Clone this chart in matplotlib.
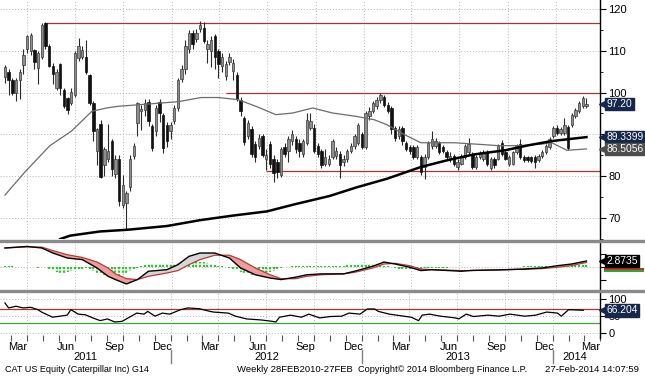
import numpy as np
import pandas as pd
import matplotlib
from matplotlib import pyplot as plt
from matplotlib import transforms
from matplotlib.lines import Line2D
from matplotlib.patches import Rectangle

matplotlib.use("Agg")
plt.rcParams['font.family'] = ['Liberation Sans', 'DejaVu Sans']

# weekly bars, first one dated Friday 18-Feb-2011, last one 28-Feb-2014
first_week = pd.Timestamp("2011-02-18")

opens = [
    103.7, 104.9, 102.9, 100.0, 103.0, 106.5, 110.3, 109.8, 110.2, 105.9,
    108.4, 116.6, 111.1, 106.4, 101.0, 106.8, 100.6, 98.6, 97.5, 99.4,
    108.2, 108.6, 108.6, 104.1, 97.5, 86.1, 92.4, 82.6, 84.0, 88.5,
    80.5, 84.0, 73.2, 73.6, 77.4, 84.9, 92.7, 95.5, 95.8, 97.8,
    91.9, 90.7, 97.8, 94.7, 92.3, 90.7, 93.1, 96.2, 103.3, 105.6,
    110.3, 114.3, 112.7, 115.1, 115.4, 110.3, 110.0, 113.6, 109.8, 106.3,
    103.9, 107.4, 105.1, 104.3, 98.3, 93.9, 89.6, 91.2, 87.7, 87.3,
    89.6, 84.2, 87.7, 84.2, 83.4, 80.2, 86.9, 86.1, 88.4, 88.8,
    88.0, 85.3, 88.0, 91.6, 91.6, 87.3, 86.1, 83.0, 83.0, 84.6,
    84.9, 85.3, 83.4, 84.2, 86.1, 87.3, 88.0, 90.0, 86.9, 94.3,
    95.5, 96.7, 98.3, 99.0, 97.1, 96.3, 91.6, 89.6, 91.6, 88.0,
    86.9, 86.9, 84.6, 84.6, 82.2, 84.6, 87.3, 87.3, 88.0, 86.9,
    85.7, 84.2, 84.9, 82.2, 83.0, 84.6, 85.7, 85.3, 82.2, 84.6,
    84.2, 85.7, 81.9, 84.2, 84.2, 88.0, 85.7, 83.0, 83.0, 85.7,
    87.7, 84.6, 84.5, 84.5, 84.6, 83.8, 84.9, 85.7, 86.9, 89.6,
    91.6, 90.4, 90.4, 91.8, 92.3, 94.3, 95.5, 96.7, 96.8]
closes = [
    106.1, 102.9, 100.0, 103.0, 105.0, 109.0, 113.4, 113.8, 107.4, 109.4,
    116.2, 111.1, 106.4, 104.5, 104.9, 101.0, 96.7, 95.9, 100.2, 109.4,
    111.0, 110.2, 105.0, 97.5, 90.8, 91.2, 79.9, 86.5, 86.0, 81.8,
    84.0, 74.0, 78.0, 75.9, 84.1, 87.2, 97.4, 96.0, 97.4, 93.1,
    86.8, 96.2, 95.0, 86.8, 88.4, 92.3, 96.2, 102.9, 105.6, 111.1,
    114.3, 111.5, 114.3, 116.2, 112.3, 111.5, 112.5, 108.6, 106.7, 108.6,
    106.7, 108.6, 107.0, 98.5, 95.5, 88.1, 92.8, 85.4, 84.6, 89.2,
    85.0, 85.0, 83.0, 80.7, 81.1, 86.5, 85.4, 88.8, 90.0, 86.5,
    86.1, 88.4, 93.5, 93.1, 86.1, 85.4, 82.6, 84.6, 84.2, 88.4,
    86.1, 82.6, 84.2, 86.1, 87.3, 89.6, 92.3, 86.9, 95.1, 95.5,
    97.5, 98.3, 99.4, 97.1, 95.5, 91.2, 89.2, 91.2, 88.4, 86.5,
    86.1, 84.6, 86.9, 81.1, 84.6, 88.0, 88.8, 88.4, 85.7, 86.1,
    84.6, 84.9, 83.0, 83.4, 84.6, 87.3, 87.7, 82.2, 84.6, 85.4,
    85.7, 83.0, 84.2, 82.6, 87.3, 85.3, 84.2, 84.6, 85.7, 87.3,
    84.6, 83.8, 83.8, 83.6, 83.4, 84.9, 85.7, 87.3, 88.8, 91.6,
    90.4, 91.2, 92.3, 86.7, 94.7, 95.9, 97.5, 98.6, 97.2]
highs = [
    106.6, 105.5, 103.5, 103.5, 105.5, 110.5, 113.8, 114.2, 110.5, 110.0,
    116.5, 116.8, 111.5, 107.0, 105.5, 107.0, 101.0, 99.0, 101.0, 110.0,
    113.0, 111.0, 112.5, 104.5, 98.0, 91.5, 93.5, 87.0, 92.4, 89.0,
    85.0, 85.0, 80.2, 76.5, 85.0, 88.0, 97.8, 97.0, 98.5, 98.5,
    92.5, 97.0, 98.5, 95.0, 93.0, 93.0, 97.0, 103.5, 106.5, 112.5,
    115.0, 115.0, 115.2, 117.2, 116.8, 112.5, 113.5, 114.0, 110.5, 109.5,
    107.5, 109.5, 108.0, 105.0, 99.0, 94.5, 93.5, 92.0, 88.5, 90.0,
    90.0, 86.5, 88.5, 85.0, 84.0, 87.0, 88.0, 89.5, 91.0, 89.5,
    89.0, 89.0, 95.0, 95.0, 92.5, 88.0, 86.5, 86.5, 85.0, 89.0,
    87.0, 86.0, 85.0, 86.5, 88.0, 90.0, 92.8, 90.5, 95.5, 96.5,
    98.0, 99.0, 99.8, 99.5, 97.8, 96.8, 92.0, 92.0, 92.0, 88.5,
    87.5, 87.5, 87.5, 85.0, 85.2, 88.5, 90.8, 89.2, 88.5, 87.5,
    86.2, 85.8, 85.3, 84.0, 85.2, 87.8, 89.2, 85.8, 85.0, 86.0,
    86.3, 86.2, 84.6, 84.6, 87.8, 88.6, 86.2, 85.1, 86.1, 87.8,
    88.8, 85.0, 84.9, 84.9, 85.0, 85.4, 86.2, 87.8, 89.3, 92.1,
    92.2, 91.7, 94.0, 92.3, 95.2, 96.4, 98.0, 99.1, 98.8]
lows = [
    102.2, 99.3, 99.3, 98.0, 98.5, 104.5, 109.5, 109.0, 105.5, 102.0,
    108.0, 110.5, 106.0, 102.0, 100.5, 99.5, 96.2, 94.8, 97.0, 99.0,
    107.5, 108.0, 104.5, 97.0, 88.5, 82.7, 79.5, 80.0, 83.5, 80.0,
    79.5, 73.0, 72.5, 67.3, 76.5, 84.0, 89.5, 91.0, 94.5, 92.0,
    86.0, 89.5, 93.0, 85.5, 87.0, 89.0, 92.5, 95.5, 102.5, 104.5,
    109.5, 110.5, 112.0, 114.5, 111.8, 107.0, 106.0, 105.5, 103.5, 105.0,
    103.0, 106.5, 103.0, 98.0, 94.4, 87.5, 89.0, 84.5, 83.5, 86.5,
    84.5, 81.5, 82.0, 78.7, 79.5, 79.8, 84.5, 83.5, 87.5, 85.5,
    84.5, 84.5, 87.5, 91.0, 85.5, 84.5, 82.0, 82.5, 82.5, 84.0,
    84.0, 79.5, 82.5, 83.5, 85.5, 86.5, 87.5, 86.5, 86.5, 93.5,
    95.0, 96.0, 97.5, 96.5, 95.0, 90.0, 88.5, 89.0, 87.5, 86.0,
    85.3, 84.0, 84.0, 80.3, 79.4, 84.0, 86.5, 86.8, 85.2, 85.5,
    84.0, 83.5, 82.5, 81.5, 82.6, 84.2, 85.3, 81.8, 81.7, 84.0,
    83.6, 82.5, 81.4, 82.0, 83.8, 84.8, 83.8, 82.5, 82.6, 85.2,
    84.0, 83.3, 83.3, 83.1, 82.0, 83.4, 84.4, 85.2, 86.4, 89.1,
    89.9, 89.9, 89.9, 86.3, 91.8, 93.8, 95.0, 96.2, 96.2]

# moving averages (week index, value)
ma_short_wk = [0, 5.4, 12.2, 18.1, 23.6, 27.6, 30.7, 39.7, 47, 53.3, 57.9, 63.3, 68.2, 73.6, 78.2,
               83.6, 89, 95.4, 100.3, 103.8, 108.4, 113, 122, 127.4, 134.2, 139.6, 146, 148.6, 152.7, 158]
ma_short = [75.5, 81.0, 87.3, 90.8, 95.5, 96.3, 96.7, 97.3, 97.8, 98.8, 98.8, 98.3, 96.7, 94.7, 95.1,
            96.3, 95.1, 94.3, 93.5, 92.3, 90.0, 88.0, 88.0, 87.7, 87.3, 87.3, 87.7, 88.0, 86.2, 86.51]
ma_long_wk = [15, 17.7, 25.8, 33.2, 44, 53, 62, 71.2, 78.3, 88.3, 95.4, 103.8, 113, 120.1, 127.4,
              135.9, 142.3, 148.6, 158]
ma_long = [65.0, 65.8, 66.8, 67.2, 68.1, 69.5, 70.6, 71.6, 73.2, 75.3, 77.3, 79.4, 82.2, 83.8, 85.2,
           86.2, 87.4, 88.4, 89.34]

# drawn support / resistance levels and the week they start
levels = [116.6, 100.0, 81.2]
level_start = [11, 60, 71]

# MACD panel
macd_wk = [0, 6, 10, 13, 17, 21, 25, 28, 30, 33, 36, 39, 44, 47, 50, 53, 57, 61, 64, 68, 72, 75, 79, 82,
           86, 92, 95, 100, 103, 106, 110, 113, 116, 124, 127, 134, 141, 146, 150, 154, 158]
macd = [8.8, 9.5, 8.8, 6.5, 4.2, 3.5, -0.3, -4.1, -5.6, -7.6, -5.6, -1.8, -1.1, 1.2, 5.0, 6.5, 6.5,
        4.2, -0.3, -3.4, -4.9, -5.6, -4.5, -3.4, -3.0, -3.0, -1.8, 0.5, 2.4, 1.5, 0.0, -1.5, -1.1,
        -1.8, -1.4, -1.2, -0.8, -0.3, 0.7, 1.5, 2.87]
signal = [8.8, 9.3, 9.2, 7.6, 5.7, 4.5, 2.4, -0.3, -3.0, -5.2, -5.6, -4.1, -2.6, -1.5, 1.2, 3.5, 5.5,
          5.5, 3.5, -0.3, -3.4, -5.2, -5.2, -4.1, -3.4, -3.0, -2.3, -0.3, 1.5, 1.8, 0.7, -0.8, -1.1,
          -1.5, -1.5, -1.2, -0.9, -0.6, 0.0, 0.8, 2.2]
hist = [0.5, 0.5, 0.4, 0.3,
        0.2, 0.1, 0.1, 0, 0, -0.1, 0, 0.1,
        -0.8, -1.4, -2.0, -2.4, -2.4, -2.2, -1.8, -1.3,
        -0.8, -0.6, -0.5, -0.8, -1.5,
        -2.4, -3.0, -3.5, -3.8, -4.0, -4.0, -3.8, -3.2, -2.4, -1.5, -0.8, -0.2,
        0.6, 1.2, 1.5, 1.6, 1.7, 1.6, 1.5, 1.4, 1.4, 1.6, 1.9, 2.2,
        2.5, 2.7, 2.8, 2.7, 2.5, 2.2, 1.9, 1.5, 1.2,
        0.8, 0.5, 0.1, -0.3,
        -0.8, -1.4, -2.0, -2.6, -3.0, -3.3, -3.4, -3.3, -3.0, -2.6, -2.1, -1.6, -1.0, -0.5,
        0, 0.3, 0.5, 0.6, 0.7, 0.8, 0.8, 0.7, 0.6, 0.5, 0.4, 0.4, 0.5, 0.6, 0.7, 0.7, 0.8, 0.9,
        1.0, 1.1, 1.2, 1.3, 1.4, 1.4, 1.3, 1.2, 1.0, 0.7, 0.4,
        0.0, -0.3, -0.6, -0.8, -0.9, -0.9, -0.8, -0.7, -0.6, -0.5, -0.4,
        -0.3, -0.2, -0.2, -0.1, -0.1, 0, 0, 0.1, 0.1, 0.1, 0.2, 0.1, 0.1, 0, 0, 0.1, 0.1, 0.1, 0.2,
        0.2, 0.1, 0.1, 0.1, 0.2, 0.3,
        0.4, 0.4, 0.5, 0.5, 0.5, 0.6, 0.6, 0.7, 0.7, 0.8, 0.8,
        0.9, 1.0, 1.0, 1.1, 1.2, 1.2, 1.3]

# RSI panel
rsi_wk = [0, 1, 3, 5, 7, 9, 10, 13, 15, 17, 18, 20, 22, 24, 26, 28, 30, 32, 34, 36, 38, 39, 41, 43,
          45, 48, 50, 53, 56, 57, 61, 63, 66, 70, 73, 74, 75, 78, 81, 83, 86, 89, 92, 94, 97, 99,
          101, 102, 105, 109, 111, 113, 114, 116, 119, 123, 124, 126, 128, 132, 135, 138, 142, 145,
          148, 151, 152, 154, 158]
rsi = [87.5, 73, 78, 73, 75, 68, 61, 46, 49, 52, 68, 55, 53, 44, 36, 41, 32, 34, 46, 58, 55, 63, 49,
       58, 55, 68, 73, 71, 63, 61, 58, 49, 41, 38, 34, 32, 46, 52, 46, 55, 44, 48, 49, 58, 55, 70,
       70, 63, 55, 49, 46, 36, 52, 55, 49, 44, 41, 55, 48, 52, 49, 55, 49, 52, 61, 58, 49, 68, 66.2]


def week_of(date):
    return (pd.Timestamp(date) - first_week).days / 7.0


W, H = 645, 376
fig = plt.figure(figsize=(W / 100, H / 100), dpi=100)


def panel(top, bottom):
    return fig.add_axes([0, 1 - bottom / H, 600 / W, (bottom - top) / H])


ax = panel(0, 239)
ax_macd = panel(242.5, 289)
ax_rsi = panel(292, 338)

xlim = (-5 / 3.68, 595 / 3.68)
month_starts = pd.date_range("2011-03-01", "2014-04-01", freq="MS")
quarter_starts = [d for d in month_starts if d.month in (1, 4, 7, 10)]
quarter_wk = [week_of(d) for d in quarter_starts]
navy = '#15274a'
red_line = '#a83434'
grid_kw = dict(color='#b5b5b5', lw=0.7, linestyle=(0, (1, 2)))

for a in (ax, ax_macd, ax_rsi):
    a.set_xlim(*xlim)
    for s in ('top', 'left', 'bottom'):
        a.spines[s].set_visible(False)
    a.spines['right'].set_linewidth(1.0)
    a.yaxis.tick_right()
    a.tick_params(axis='y', which='major', direction='out', length=4, labelsize=8, pad=2)
    a.tick_params(axis='y', which='minor', direction='out', length=2.5)
    for q in quarter_wk:
        a.axvline(q, zorder=0, **grid_kw)

# candles
week = np.arange(len(closes))
o = np.array(opens)
c = np.array(closes)
up = c >= o
ax.vlines(week, lows, highs, color='#2a2a2a', lw=0.8, zorder=3)
ax.bar(week[up], c[up] - o[up], bottom=o[up], width=0.66, color='#8e8e8e',
       edgecolor='#3a3a3a', lw=0.5, zorder=4)
ax.bar(week[~up], o[~up] - c[~up], bottom=c[~up], width=0.66, color='#111111',
       edgecolor='#111111', lw=0.5, zorder=4)

ax.plot(ma_short_wk, ma_short, color='#6c6c6c', lw=0.9, zorder=5)
ax.plot(ma_long_wk, ma_long, color='black', lw=1.8, zorder=5)
ax.hlines(levels, level_start, xlim[1], color=red_line, lw=0.9, zorder=2)

ax.set_ylim(66.0, 122.1)
ax.set_yticks([70, 80, 90, 100, 110, 120])
# the 90 label sits under the last-value tags
ax.set_yticklabels(['70', '80', '', '100', '110', '120'])
ax.set_yticks(np.arange(65, 125, 5), minor=True)
ax.set_xticks([])
for lv in [70, 80, 90, 100, 110, 120]:
    ax.axhline(lv, zorder=0, **grid_kw)

# MACD
ax_macd.plot(macd_wk, signal, color='#b83a3a', lw=0.9, zorder=4)
ax_macd.plot(macd_wk, macd, color='black', lw=1.0, zorder=5)
m = np.array(macd)
s_ = np.array(signal)
ax_macd.fill_between(macd_wk, m, s_, where=m < s_, interpolate=True, color='#ef9c9c', lw=0, zorder=3)
ax_macd.fill_between(macd_wk, m, s_, where=m >= s_, interpolate=True, color='#d6d6d6', lw=0, zorder=3)
ax_macd.vlines(week, 0, hist, color='#33c233', lw=1.6, linestyle=(0, (1, 0.6)), zorder=2)
ax_macd.axhline(0, zorder=1, **grid_kw)
ax_macd.set_ylim(-9.9, 11.3)
ax_macd.set_yticks([-6, 0, 6])
ax_macd.set_yticklabels([])
ax_macd.set_xticks([])

# RSI
ax_rsi.plot(rsi_wk, rsi, color='black', lw=0.9, zorder=4)
ax_rsi.axhline(70, color=red_line, lw=0.9, zorder=2)
ax_rsi.axhline(30, color='#3aa63a', lw=0.9, zorder=2)
for lv in [0, 50, 100]:
    ax_rsi.axhline(lv, zorder=0, **grid_kw)
ax_rsi.set_ylim(-14.6, 119.5)
ax_rsi.set_yticks([0, 50, 100])

# time axis
ax_rsi.set_xticks([week_of(d) for d in month_starts])
ax_rsi.set_xticklabels([])
ax_rsi.tick_params(axis='x', which='major', direction='inout', length=5, color='#555555')
label_months = [d + pd.Timedelta(days=14) for d in month_starts if d.month in (3, 6, 9, 12)]
label_months = [d for d in label_months if week_of(d) < xlim[1]]
ax_rsi.set_xticks([week_of(d) for d in label_months], minor=True)
ax_rsi.set_xticklabels([d.strftime('%b') for d in label_months], minor=True)
ax_rsi.tick_params(axis='x', which='minor', length=0, labelsize=8, pad=3)

trans = transforms.blended_transform_factory(ax_rsi.transData, ax_rsi.transAxes)
year_edges = [xlim[0]] + [week_of(f"{y}-01-01") for y in (2012, 2013, 2014)] + [xlim[1]]
for k, year in enumerate(['2011', '2012', '2013', '2014']):
    ax_rsi.text((year_edges[k] + year_edges[k + 1]) / 2, -0.42, year, transform=trans,
                ha='center', va='center', fontsize=8)
for edge in year_edges[1:-1]:
    ax_rsi.add_line(Line2D([edge, edge], [-0.27, -0.54], transform=trans, color='#808080',
                           lw=1.0, clip_on=False))


# value tags on the right
def tag(a, value, text, color, tcolor='white'):
    t = transforms.blended_transform_factory(a.transAxes, a.transData)
    a.plot([1.004], [value], marker='<', ms=4.5, color=color, transform=t, clip_on=False, zorder=10)
    a.text(1.011, value, text, transform=t, ha='left', va='center', fontsize=7.4, color=tcolor,
           bbox=dict(boxstyle='square,pad=0.12', fc=color, ec=color), zorder=10)


tag(ax, 97.20, '97.20', navy)
tag(ax, 89.3399, '89.3399', navy)
tag(ax, 86.5056, '86.5056', '#4d4d4d')
tag(ax_macd, 2.8735, '2.8735', 'black')
# signal / histogram tags peeking out under the MACD tag
tm = transforms.blended_transform_factory(ax_macd.transAxes, ax_macd.transData)
for lo_v, hi_v, col in [(-1.2, -0.2, '#c03030'), (-2.1, -1.2, '#2fa82f')]:
    ax_macd.add_patch(Rectangle((1.006, lo_v), 0.067, hi_v - lo_v, transform=tm, fc=col, ec='none',
                                clip_on=False, zorder=9))
tag(ax_rsi, 66.204, '66.204', navy)

# panel separators
for y in (240.5, 290.5):
    fig.add_artist(Line2D([0, 1], [1 - y / H] * 2, transform=fig.transFigure, color='#8a8a8a', lw=2.4))

fy = 1 - 370 / H
fig.text(5 / W, fy, "CAT US Equity (Caterpillar Inc) G14", fontsize=6.5, va='center')
fig.text(237 / W, fy, "Weekly 28FEB2010-27FEB", fontsize=6.8, va='center')
fig.text(358 / W, fy, "Copyright\u00a9 2014 Bloomberg Finance L.P.", fontsize=6.6, va='center')
fig.text(545 / W, fy, "27-Feb-2014 14:07:59", fontsize=6.8, va='center')

plt.savefig("out.png", dpi=100)
plt.close()
